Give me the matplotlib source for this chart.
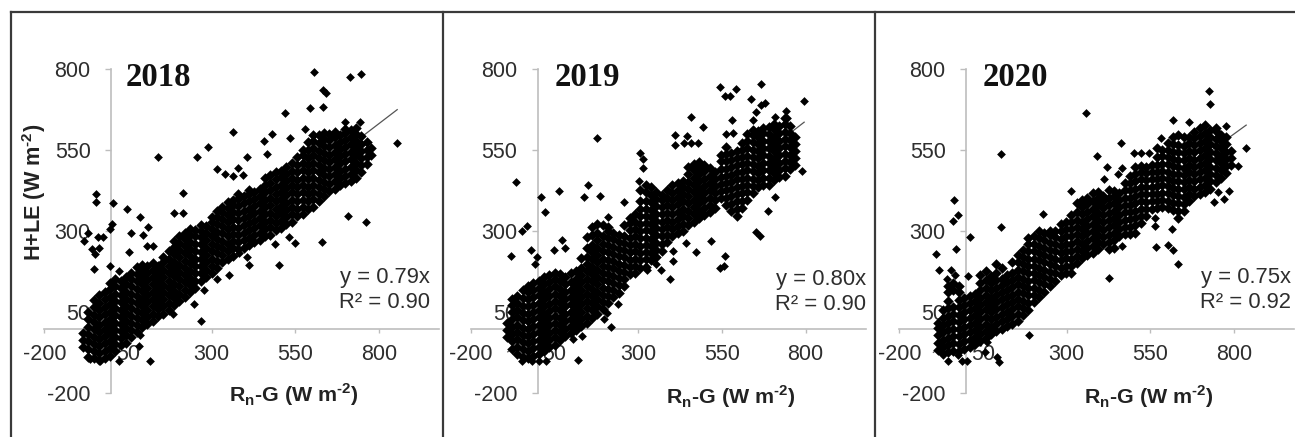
import matplotlib
matplotlib.use('Agg')
import matplotlib.pyplot as plt
from matplotlib.lines import Line2D

plt.rcParams['font.family'] = 'Liberation Sans'
plt.rcParams['mathtext.fontset'] = 'custom'
plt.rcParams['mathtext.rm'] = 'Liberation Sans:bold'

W, H = 1295, 437
TICKS = [-200, 50, 300, 550, 800]
YEARS = ['2018', '2019', '2020']
EQUATIONS = ['y = 0.79x', 'y = 0.80x', 'y = 0.75x']
R2_LABELS = ['R² = 0.90', 'R² = 0.90', 'R² = 0.92']
SLOPES = [0.79, 0.80, 0.75]
LINE_X = [(-80, 855), (-90, 796), (-98, 837)]

band_2018 = {
    -83: [-58, -36, -14],
    -68: [-88, -62, -40, -18, 5, 28, 52],
    -52: [-92, -70, -48, -25, -3, 20, 42, 66, 88],
    -36: [-98, -76, -55, -33, -10, 12, 35, 58, 80, 104],
    -20: [-92, -70, -46, -24, -2, 20, 44, 66, 90, 112],
    -4: [-84, -60, -38, -15, 8, 30, 52, 76, 98, 122, 140],
    12: [-70, -48, -26, -4, 18, 42, 64, 86, 108, 132, 152],
    28: [-52, -30, -8, 14, 36, 58, 82, 104, 126, 148],
    44: [-44, -20, 2, 24, 48, 70, 92, 114, 138, 158],
    60: [-26, -4, 18, 40, 62, 86, 108, 130, 152, 172],
    76: [-12, 10, 32, 54, 78, 100, 122, 146, 168, 190],
    92: [4, 26, 48, 70, 92, 116, 138, 160, 182, 196],
    108: [14, 36, 58, 82, 104, 126, 150, 172, 194],
    124: [22, 46, 68, 90, 112, 136, 158, 180, 202],
    140: [38, 60, 82, 104, 126, 148, 172, 194],
    156: [44, 68, 90, 112, 134, 158, 180, 204, 222],
    172: [58, 80, 102, 126, 148, 170, 194, 216, 240],
    188: [72, 94, 116, 138, 162, 184, 206, 230, 252, 270],
    204: [84, 106, 130, 152, 174, 196, 220, 242, 264, 284],
    220: [96, 118, 142, 164, 186, 208, 232, 254, 276, 296],
    236: [112, 134, 156, 178, 202, 224, 246, 268, 290, 306],
    252: [126, 148, 170, 192, 216, 238, 260, 284, 304],
    268: [148, 170, 192, 214, 236, 260, 282, 302, 318],
    284: [160, 182, 206, 228, 250, 272, 296, 316],
    300: [170, 192, 216, 238, 260, 284, 306, 328, 344],
    316: [186, 208, 232, 254, 276, 298, 322, 344, 362],
    332: [204, 226, 248, 270, 294, 316, 338, 360, 376],
    348: [216, 238, 260, 284, 306, 328, 350, 372, 390],
    364: [224, 248, 270, 292, 314, 338, 360, 382, 398],
    380: [244, 266, 288, 310, 334, 356, 378, 400, 416],
    396: [250, 274, 296, 318, 340, 362, 386, 408],
    412: [258, 280, 304, 326, 348, 370, 392, 416, 426],
    428: [266, 288, 310, 332, 356, 378, 400, 422],
    444: [274, 296, 320, 342, 364, 386, 410, 432],
    460: [286, 308, 330, 352, 376, 398, 420, 442, 466],
    476: [290, 314, 336, 358, 380, 404, 426, 448, 474],
    492: [304, 326, 348, 370, 394, 416, 438, 460, 482],
    508: [310, 332, 356, 378, 400, 422, 444, 468, 486],
    524: [322, 344, 366, 388, 412, 434, 456, 478, 500],
    540: [330, 352, 376, 398, 420, 442, 466, 486, 510],
    556: [346, 368, 392, 414, 436, 458, 482, 504, 530],
    572: [352, 376, 398, 420, 442, 466, 488, 510, 534, 552],
    588: [370, 392, 414, 436, 460, 482, 504, 526, 550, 576],
    604: [376, 400, 422, 444, 466, 488, 512, 534, 556, 580, 598],
    620: [392, 414, 436, 458, 482, 504, 526, 548, 572, 596],
    636: [408, 430, 452, 474, 496, 520, 542, 564, 586, 602],
    652: [424, 446, 470, 492, 514, 536, 560, 582, 600],
    668: [432, 454, 476, 500, 522, 544, 566, 590, 606],
    684: [442, 464, 486, 510, 532, 554, 576, 598],
    700: [448, 470, 492, 516, 538, 560, 582, 604, 616],
    716: [456, 478, 500, 524, 546, 568, 590, 612],
    732: [466, 488, 510, 534, 556, 578, 600, 618],
    748: [482, 504, 526, 548, 570, 594],
    764: [508, 530, 552, 576],
    778: [534, 556],
}
out_x_2018 = [-45, -46, 4, 48, 2, -3, -68, -81, -38, -25, -58, -35, -48, -51, -5, 22, 86, 111, 59, 95, 52, 107, 125, 139, 257, 289, 364, 214, 187, 215, 317, 339, 365, 379, 394, 405, 607, 715, 746, 632, 642, 520, 595, 632, 580, 700, 743, 855, 709, 762, 631, 502, 550, 532, 489, 405, 411, 382, 351, 315, 277, 249, 267, 185, 116, 87, 82, 22, -33, -63, 467, 457, 480, 535]
out_y_2018 = [414, 389, 386, 368, 324, 307, 296, 271, 281, 281, 244, 250, 229, 183, 193, 178, 343, 312, 295, 288, 237, 255, 255, 528, 528, 559, 605, 417, 358, 358, 492, 476, 471, 494, 474, 530, 791, 776, 785, 736, 728, 664, 680, 685, 615, 636, 636, 571, 347, 330, 267, 197, 265, 283, 262, 221, 195, 232, 165, 154, 120, 76, 22, 46, -100, -21, -55, -100, -100, -93, 540, 579, 599, 587]

band_2019 = {
    -92: [-26, -4, 18],
    -78: [-64, -40, -18, 4, 28, 50, 74, 90],
    -62: [-78, -56, -32, -10, 12, 34, 58, 80, 100],
    -46: [-88, -64, -42, -20, 2, 26, 48, 70, 94, 118],
    -30: [-90, -68, -46, -22, 0, 22, 46, 68, 90, 112, 132],
    -14: [-84, -60, -38, -16, 8, 30, 52, 74, 98, 120, 140],
    2: [-78, -56, -34, -10, 12, 34, 56, 80, 102, 124, 148],
    18: [-68, -44, -22, 0, 22, 46, 68, 90, 112, 136, 158],
    34: [-58, -36, -14, 10, 32, 54, 76, 100, 122, 144, 166],
    50: [-50, -26, -4, 18, 40, 64, 86, 108, 130, 154, 172],
    66: [-34, -12, 10, 32, 56, 78, 100, 122, 146, 168],
    82: [-22, 0, 22, 46, 68, 90, 112, 136, 158],
    98: [-14, 8, 30, 52, 76, 98, 120, 144, 172],
    114: [-6, 18, 40, 62, 84, 108, 130, 152, 178],
    130: [8, 30, 52, 76, 98, 120, 142, 166, 188, 218],
    146: [18, 40, 64, 86, 108, 130, 154, 176, 198, 222, 250, 282],
    162: [32, 56, 78, 100, 122, 146, 168, 190, 214, 236, 258, 290, 314],
    178: [46, 68, 92, 114, 136, 158, 182, 204, 226, 250, 272, 296, 322],
    194: [60, 82, 104, 126, 150, 172, 194, 216, 240, 262, 284, 318],
    210: [78, 100, 122, 146, 168, 190, 212, 236, 258, 280, 302, 314],
    226: [96, 118, 140, 162, 186, 208, 230, 252, 276, 296],
    242: [110, 134, 156, 178, 200, 224, 246, 268, 288],
    258: [130, 152, 174, 196, 220, 242, 264, 286, 320],
    274: [168, 190, 212, 236, 258, 280, 304, 326, 340],
    290: [172, 194, 216, 240, 262, 284, 306, 330, 352],
    306: [188, 210, 232, 256, 278, 300, 322, 346, 368, 392, 428],
    322: [190, 214, 236, 258, 280, 304, 326, 348, 370, 394, 420, 444],
    338: [210, 232, 254, 276, 300, 322, 344, 366, 390, 412, 438],
    354: [220, 242, 264, 288, 310, 332, 354, 378, 400, 420],
    370: [240, 262, 286, 308, 330, 352, 376, 398, 412],
    386: [268, 290, 312, 336, 358, 380, 402, 426],
    402: [284, 306, 328, 352, 374, 396, 418, 442],
    418: [294, 316, 338, 360, 384, 406, 428, 450],
    434: [302, 324, 346, 370, 392, 414, 436, 454],
    450: [318, 340, 362, 386, 408, 430, 452, 476, 498],
    466: [330, 352, 374, 398, 420, 442, 464, 488, 508],
    482: [340, 364, 386, 408, 430, 454, 476, 498, 514],
    498: [350, 372, 396, 418, 440, 462, 486, 504],
    514: [360, 382, 404, 428, 450, 472, 494],
    530: [372, 396, 418, 440, 462, 482],
    546: [402, 424, 446, 468, 492, 516, 534],
    562: [380, 402, 426, 448, 470, 492, 516, 538, 560],
    578: [362, 384, 408, 430, 452, 474, 498, 520, 542],
    594: [346, 370, 392, 414, 436, 460, 482, 504, 526, 548],
    610: [372, 394, 418, 440, 462, 484, 508, 530, 552, 572],
    626: [398, 420, 442, 466, 488, 510, 532, 556, 578, 600],
    642: [418, 440, 462, 486, 508, 530, 552, 576, 598, 612],
    658: [436, 458, 480, 502, 526, 548, 570, 592, 610],
    674: [444, 466, 488, 512, 534, 556, 578, 602, 618],
    690: [442, 466, 488, 510, 532, 556, 578, 600, 622],
    706: [458, 480, 502, 524, 548, 570, 592, 616, 632],
    722: [468, 490, 512, 534, 558, 580, 602, 624],
    738: [472, 494, 518, 540, 562, 584, 608, 630, 650],
    754: [492, 514, 536, 560, 582, 604, 626],
    770: [504, 526, 548, 570, 592],
}
out_x_2019 = [-64, 8, 63, 20, -32, -47, -80, -22, -2, -9, 48, 80, 71, 176, 150, 138, 185, 258, 211, 306, 315, 315, 303, 459, 495, 411, 411, 445, 438, 458, 478, 543, 560, 575, 591, 666, 638, 668, 678, 795, 581, 563, 583, 743, 745, 708, 653, 643, 790, 709, 687, 653, 663, 558, 556, 543, 518, 473, 443, 403, 403, 395, 368, 353, 325, 240, 206, 198, 218, 133, 105, 119, -47, -19, 3, 23]
out_y_2019 = [451, 406, 425, 360, 317, 301, 224, 242, 221, 200, 242, 250, 273, 589, 442, 406, 410, 391, 345, 542, 522, 496, 456, 653, 621, 598, 566, 594, 571, 571, 571, 745, 719, 717, 738, 754, 707, 691, 697, 703, 645, 600, 602, 671, 651, 653, 669, 645, 487, 406, 363, 298, 286, 223, 193, 188, 271, 237, 265, 240, 209, 152, 180, 200, 182, 77, 49, 28, 5, -24, -31, -98, -101, -101, -101, -101]

band_2020 = {
    -85: [-66, -44, -20, 2, 18],
    -70: [-80, -58, -34, -12, 10, 32, 56],
    -54: [-72, -50, -28, -4, 18, 40, 62, 86, 112, 130],
    -38: [-68, -46, -24, 0, 22, 44, 66, 118, 140],
    -22: [-70, -48, -24, -2, 20, 42, 66, 88, 112, 130],
    -6: [-62, -40, -18, 6, 28, 50, 72, 94],
    10: [-58, -34, -12, 10, 32, 56, 78, 100],
    26: [-48, -26, -4, 18, 42, 64, 86, 108],
    42: [-40, -18, 4, 28, 50, 72, 94, 118, 140, 166],
    58: [-30, -8, 14, 36, 60, 82, 104, 126, 150, 178],
    74: [-18, 4, 28, 50, 72, 94, 118, 140, 162],
    90: [-8, 14, 36, 60, 82, 104, 126, 150, 170, 198],
    106: [0, 22, 44, 66, 90, 112, 134, 152, 186],
    122: [8, 30, 52, 76, 98, 120, 142, 166],
    138: [14, 38, 60, 82, 104, 128, 150, 172, 206],
    154: [24, 46, 70, 92, 114, 136, 160, 182, 204, 226],
    170: [42, 64, 86, 110, 132, 154, 176, 200, 222, 242],
    186: [58, 80, 102, 124, 148, 170, 192, 214, 238, 262, 278],
    202: [82, 104, 126, 150, 172, 194, 216, 240, 262, 284],
    218: [98, 120, 144, 166, 188, 210, 234, 256, 278, 300],
    234: [114, 136, 160, 182, 204, 226, 250, 272, 294],
    250: [130, 152, 174, 198, 220, 242, 264, 288, 300],
    266: [148, 170, 192, 214, 238, 260, 282, 300],
    282: [164, 186, 210, 232, 254, 276, 300, 322],
    298: [172, 194, 218, 240, 262, 284, 306, 330],
    314: [170, 194, 216, 238, 260, 284, 306, 328, 350],
    330: [202, 224, 246, 270, 292, 314, 336, 360, 386],
    346: [218, 240, 262, 286, 308, 330, 352, 376, 398],
    362: [226, 248, 270, 294, 316, 338, 360, 384, 404],
    378: [234, 256, 280, 302, 324, 346, 370, 392, 418],
    394: [246, 268, 290, 312, 336, 358, 380, 402, 420],
    410: [260, 282, 304, 328, 350, 372, 394, 408],
    426: [244, 268, 290, 312, 334, 358, 380, 402, 428],
    442: [250, 272, 296, 318, 340, 362, 386, 408, 424],
    458: [284, 306, 328, 350, 374, 396, 418],
    474: [292, 314, 336, 360, 382, 404, 426, 448],
    490: [292, 314, 338, 360, 382, 404, 428, 450, 470],
    506: [296, 318, 342, 364, 386, 408, 432, 454, 476, 500],
    522: [326, 348, 370, 394, 416, 438, 460, 484, 502],
    538: [346, 368, 390, 414, 436, 458, 480, 500],
    554: [370, 392, 414, 436, 460, 482, 504],
    570: [372, 394, 416, 440, 462, 484, 506, 530, 556],
    586: [374, 396, 418, 442, 464, 486, 508, 532, 552],
    602: [372, 394, 418, 440, 462, 484, 508, 530, 552, 574],
    618: [366, 388, 412, 434, 456, 478, 502, 524, 546, 568, 590],
    634: [340, 362, 386, 408, 430, 454, 476, 498, 520, 544, 566, 596],
    650: [362, 384, 406, 430, 452, 474, 496, 520, 542, 564, 590],
    666: [392, 414, 436, 458, 482, 504, 526, 548, 572, 592],
    682: [408, 430, 454, 476, 498, 520, 544, 566, 588, 606],
    698: [414, 436, 460, 482, 504, 526, 550, 572, 594, 618],
    714: [422, 444, 466, 490, 512, 534, 556, 580, 602, 628],
    730: [432, 456, 478, 500, 522, 546, 568, 590, 612],
    746: [452, 474, 496, 520, 542, 564, 586, 610, 620],
    762: [466, 488, 510, 532, 556, 578, 596],
    778: [480, 502, 524, 546, 568, 590],
    792: [504, 526, 548],
}
out_x_2020 = [-35, -26, -38, 104, 104, 10, -91, -31, -81, -45, -33, 4, -58, 357, 727, 730, 617, 667, 464, 392, 420, 502, 524, 545, 467, 454, 412, 312, 837, 812, 787, 752, 772, 742, 777, 582, 564, 564, 614, 567, 604, 617, 634, 428, 467, 229, 187, 62, 57, 92, 97, -55, -26, -13, 2, 87]
out_y_2020 = [396, 350, 331, 539, 314, 281, 229, 244, 180, 182, 165, 163, 154, 666, 733, 693, 643, 636, 573, 531, 498, 542, 542, 542, 496, 478, 460, 425, 556, 501, 425, 420, 401, 391, 625, 587, 340, 317, 307, 251, 259, 242, 200, 157, 255, 352, -21, -41, -72, -87, -103, -100, -82, -100, -100, -5]

bands = [band_2018, band_2019, band_2020]
outs_x = [out_x_2018, out_x_2019, out_x_2020]
outs_y = [out_y_2018, out_y_2019, out_y_2020]

# pixel layout of the three panels
AX_LEFT = [44.3, 471, 899.3]
PX_PER_X = 0.3345
AX_TOP, AX_BOTTOM = 69.3, 393.3
XMAX = 980
XLABEL_POS = [(294, 395), (731, 397), (1149, 397)]
YEAR_X = [126, 555, 983]
EQ_RIGHT = [430, 866, 1291]
EQ_Y = [(277, 302), (280, 305), (278, 303)]

fig = plt.figure(figsize=(W / 100, H / 100), dpi=100)

for i in range(3):
    left = AX_LEFT[i] / W
    width = (XMAX + 200) * PX_PER_X / W
    ax = fig.add_axes([left, 1 - AX_BOTTOM / H, width, (AX_BOTTOM - AX_TOP) / H])
    ax.patch.set_alpha(0)
    ax.set_xlim(-200, XMAX)
    ax.set_ylim(-200, 800)
    ax.set_axisbelow(True)

    for s in ['top', 'right']:
        ax.spines[s].set_visible(False)
    for s in ['left', 'bottom']:
        ax.spines[s].set_position(('data', 0))
        ax.spines[s].set_color('#bdbdbd')
        ax.spines[s].set_linewidth(1.2)
        ax.spines[s].set_zorder(1)

    ax.set_xticks(TICKS)
    ax.set_yticks(TICKS)
    ax.tick_params(axis='x', length=3, width=1, color='#bdbdbd', pad=8.5, labelsize=15.5, labelcolor='#2e2e2e')
    ax.tick_params(axis='y', length=4.3, width=1, color='#bdbdbd', pad=10.5, labelsize=15.5, labelcolor='#2e2e2e')
    ax.set_xticklabels([str(t) for t in TICKS])
    ax.set_yticklabels([str(t) for t in TICKS])

    xs, ys = [], []
    for x, col in bands[i].items():
        xs += [x] * len(col)
        ys += col

    x0, x1 = LINE_X[i]
    ax.plot([x0, x1], [SLOPES[i] * x0, SLOPES[i] * x1], color='#555555', lw=0.9, zorder=2)
    ax.scatter(xs, ys, marker='D', s=29, color='black', linewidths=0, zorder=3, clip_on=False)
    ax.scatter(outs_x[i], outs_y[i], marker='D', s=20, color='black', linewidths=0, zorder=3, clip_on=False)

    fig.text(YEAR_X[i] / W, 1 - 77 / H, YEARS[i], family='Liberation Serif', weight='bold',
             fontsize=23.6, color='#111111', ha='left', va='center')
    fig.text(EQ_RIGHT[i] / W, 1 - EQ_Y[i][0] / H, EQUATIONS[i], fontsize=15.8, color='#2e2e2e', ha='right', va='center')
    fig.text(EQ_RIGHT[i] / W, 1 - EQ_Y[i][1] / H, R2_LABELS[i], fontsize=15.8, color='#2e2e2e', ha='right', va='center')
    fig.text(XLABEL_POS[i][0] / W, 1 - XLABEL_POS[i][1] / H, r'R$_{\mathrm{n}}$-G (W m$^{\text{-}\mathrm{2}}$)',
             weight='bold', fontsize=15.4, color='#222222', ha='center', va='center')

fig.text(34 / W, 1 - 192 / H, r'H+LE (W m$^{\text{-}\mathrm{2}}$)', rotation=90,
         weight='bold', fontsize=15.6, color='#222222', ha='center', va='center')

# panel frame
frame = dict(color='#3a3a3a', lw=1.6, transform=fig.transFigure)
fig.add_artist(Line2D([11 / W, 1], [1 - 11.5 / H, 1 - 11.5 / H], **frame))
for px in [11, 443, 875]:
    fig.add_artist(Line2D([px / W, px / W], [0, 1 - 11.5 / H], **frame))

fig.savefig('out.png', dpi=100)
